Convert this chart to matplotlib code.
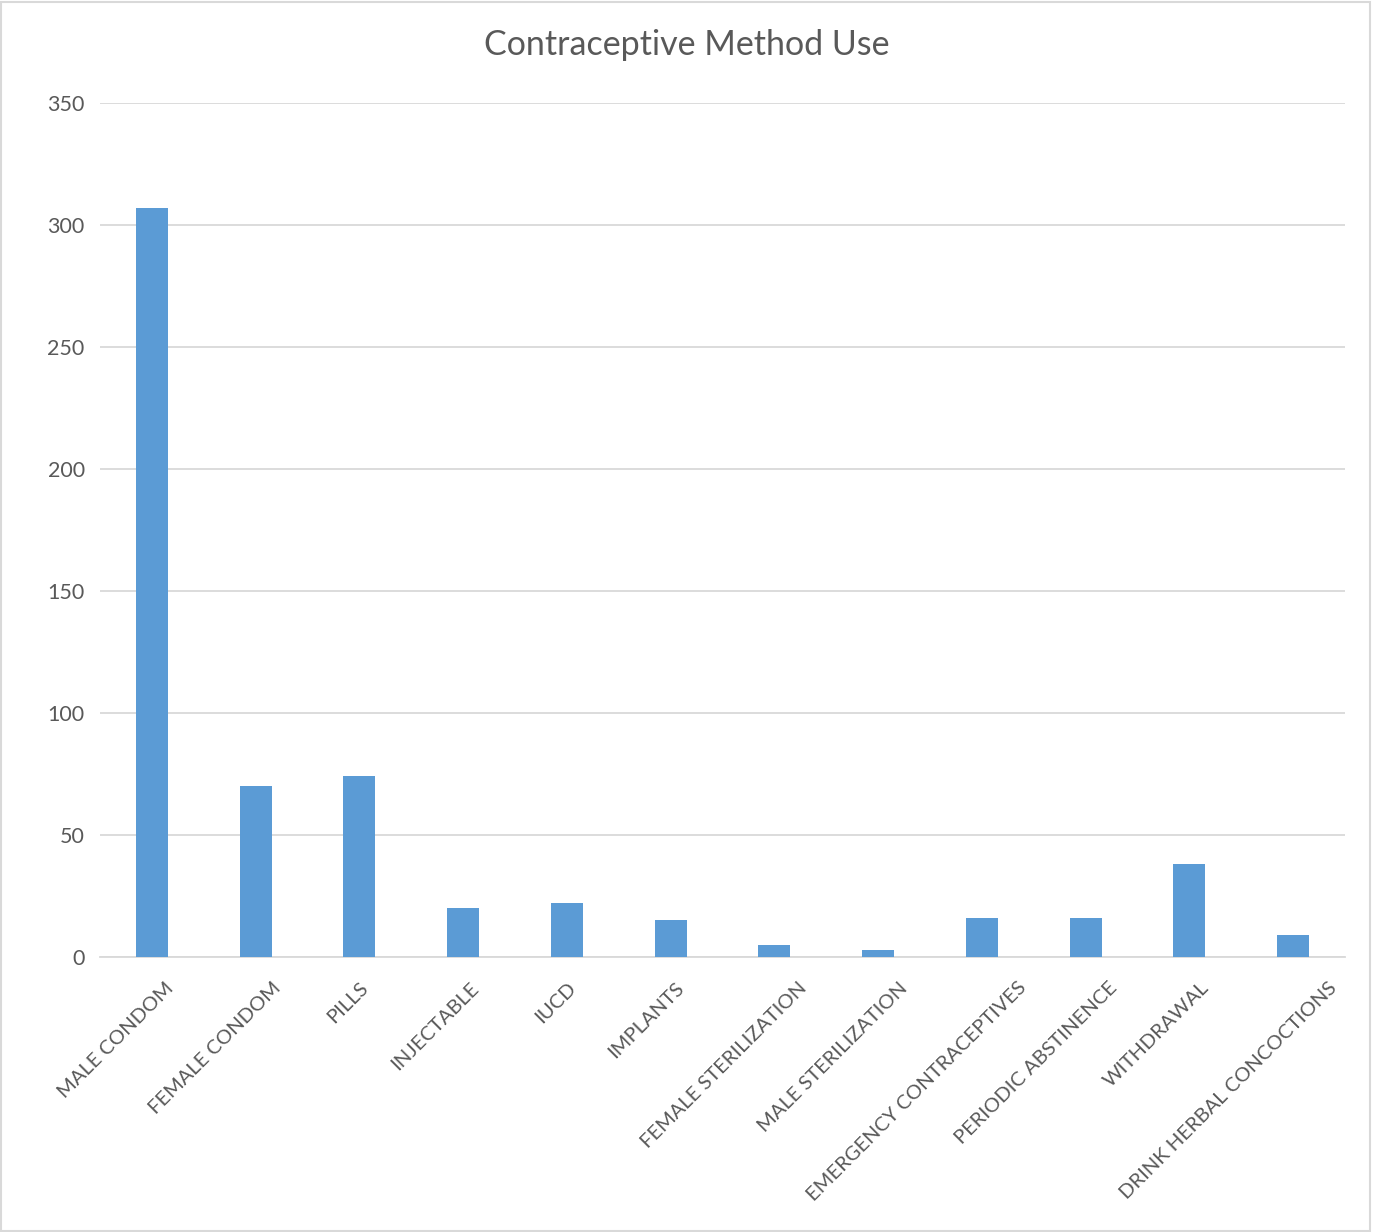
import matplotlib.pyplot as plt
import matplotlib.transforms as mtransforms
from matplotlib.patches import Rectangle

# Datos del gráfico
metodos = ['MALE CONDOM', 'FEMALE CONDOM', 'PILLS', 'INJECTABLE', 'IUCD', 'IMPLANTS',
           'FEMALE STERILIZATION', 'MALE STERILIZATION', 'EMERGENCY CONTRACEPTIVES',
           'PERIODIC ABSTINENCE', 'WITHDRAWAL', 'DRINK HERBAL CONCOCTIONS']
usuarios = [307, 70, 74, 20, 22, 15, 5, 3, 16, 16, 38, 9]
yticks = [0, 50, 100, 150, 200, 250, 300, 350]

plt.rcParams['font.family'] = ['Lato', 'DejaVu Sans']
gris = '#595959'

fig = plt.figure(figsize=(13.73, 12.32), dpi=100)
ax = fig.add_axes([100 / 1373, 1 - 957 / 1232, 1245 / 1373, 854 / 1232])

x = list(range(len(metodos)))
ax.bar(x, usuarios, width=0.31, color='#5b9bd5', zorder=3)

ax.set_xlim(-0.5, len(metodos) - 0.5)
ax.set_ylim(0, 350)
ax.set_yticks(yticks)
ax.set_yticklabels([str(v) for v in yticks], fontsize=15.5, color=gris)
ax.yaxis.grid(True, color='#d9d9d9', linewidth=1.3, zorder=0)
ax.tick_params(axis='both', length=0)
ax.tick_params(axis='y', pad=11)

ax.set_xticks(x)
ax.set_xticklabels(metodos, rotation=45, ha='right', va='top', rotation_mode='anchor',
                   fontsize=14.5, color=gris)
ax.tick_params(axis='x', pad=16)

# como en Excel: las etiquetas largas se corren más a la derecha
fig.canvas.draw()
renderer = fig.canvas.get_renderer()
for etiqueta in ax.get_xticklabels():
    bb = etiqueta.get_window_extent(renderer)
    alto = 14.5 * 1.2 * 100 / 72
    largo = bb.width * 2 ** 0.5 - alto
    desp_px = max(0.154 * largo - 10, 0)
    desp = mtransforms.ScaledTranslation(desp_px / 100, 0, fig.dpi_scale_trans)
    etiqueta.set_transform(etiqueta.get_transform() + desp)

for lado in ['top', 'right', 'left']:
    ax.spines[lado].set_visible(False)
ax.spines['bottom'].set_color('#d9d9d9')
ax.spines['bottom'].set_linewidth(1.3)

fig.text(0.5, 1 - 45 / 1232, 'Contraceptive Method Use', ha='center', va='center',
         fontsize=24.5, color=gris)

# Borde del área del gráfico
fig.patches.append(Rectangle((0.001, 0.001), 0.997, 0.997, transform=fig.transFigure,
                             fill=False, edgecolor='#d9d9d9', linewidth=1.5))

fig.savefig('out.png', dpi=100)
